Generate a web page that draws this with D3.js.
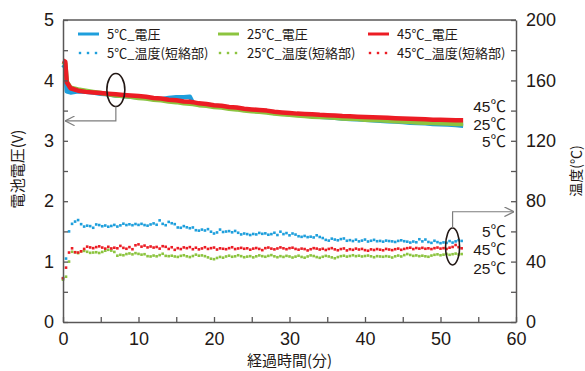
<!DOCTYPE html>
<html>
<head>
<meta charset="utf-8">
<script src="https://cdn.jsdelivr.net/npm/d3@7"></script>
<style>
  body { margin: 0; background: #fff; }
  svg text { font-family: "Liberation Sans", "Noto Sans CJK JP", sans-serif; fill: #231815; }
  .jp { font-family: "Noto Sans CJK JP", sans-serif; }
</style>
</head>
<body>
<div id="chart"></div>
<script>
// voltage samples (min)
const voltTime = [0, 0.3, 0.5, 1, 2, 3, 4, 5, 6, 7, 8, 9, 10, 11, 12, 13, 14, 15, 16, 16.8, 17.2,
  18, 19, 20, 21, 22, 23, 24, 25, 26, 27, 28, 29, 30, 31, 32, 33, 34, 35, 36, 37, 38, 39, 40,
  41, 42, 43, 44, 45, 46, 47, 48, 49, 50, 51, 52, 53];
const volt5 = [4.26, 4.22, 3.82, 3.80,
  3.82, 3.81, 3.80, 3.78, 3.77, 3.75, 3.74, 3.73, 3.72, 3.71, 3.70, 3.69, 3.71, 3.72, 3.72,
  3.73, 3.63,
  3.61, 3.60, 3.58, 3.57, 3.55, 3.53, 3.52, 3.50, 3.49, 3.48, 3.46, 3.45, 3.44, 3.43, 3.42, 3.41,
  3.40, 3.39, 3.38, 3.37, 3.36, 3.355, 3.35, 3.34, 3.33, 3.325, 3.32, 3.31, 3.30, 3.295, 3.29,
  3.28, 3.275, 3.27, 3.26, 3.25];
const volt25 = [4.31, 4.28, 3.98, 3.88,
  3.85, 3.83, 3.81, 3.79, 3.77, 3.75, 3.74, 3.73, 3.71, 3.70, 3.68, 3.67, 3.65, 3.64, 3.62,
  3.615, 3.61,
  3.59, 3.58, 3.56, 3.55, 3.53, 3.52, 3.50, 3.49, 3.48, 3.47, 3.45, 3.44, 3.43, 3.42, 3.41, 3.40,
  3.395, 3.39, 3.38, 3.37, 3.365, 3.36, 3.35, 3.345, 3.34, 3.33, 3.325, 3.32, 3.31, 3.305, 3.30,
  3.295, 3.29, 3.285, 3.28, 3.28];
const volt45 = [4.33, 4.31, 3.97, 3.87,
  3.83, 3.81, 3.80, 3.79, 3.78, 3.77, 3.76, 3.75, 3.74, 3.73, 3.71, 3.70, 3.68, 3.67, 3.65,
  3.645, 3.64,
  3.62, 3.61, 3.59, 3.58, 3.56, 3.55, 3.53, 3.52, 3.51, 3.50, 3.48, 3.47, 3.46, 3.45, 3.445, 3.44,
  3.43, 3.425, 3.42, 3.41, 3.405, 3.40, 3.395, 3.39, 3.385, 3.38, 3.375, 3.37, 3.365, 3.36, 3.355,
  3.35, 3.35, 3.345, 3.34, 3.34];

// short-circuit temperature, one reading every 0.4 min (deg C)
const tempStep = 0.4;
const temp5 = [
  29, 42, 60, 65, 66.5, 67.5, 64.8, 63.2, 63.8, 63.5,
  62.4, 64.6, 64.2, 63.4, 63.9, 63.1, 63.6, 64.3, 63.2, 64.0,
  65.1, 64.2, 64.7, 64.1, 64.9, 64.3, 65.0, 64.2, 63.8, 64.6,
  65.3, 64.4, 67.3, 65.0, 64.1, 66.3, 65.4, 64.8, 62.6, 62.4,
  63.5, 62.7, 62.1, 62.6, 60.8, 60.5, 61.2, 60.6, 61.5, 59.8,
  58.6, 59.3, 61.2, 59.6, 59.9, 60.2, 59.4, 60.3, 59.1, 58.0,
  58.6, 58.2, 57.6, 58.3, 58.0, 59.0, 58.4, 58.7, 57.8, 58.2,
  59.1, 57.6, 59.8, 58.2, 58.9, 57.4, 58.6, 57.9, 56.8, 56.4,
  57.0, 56.2, 56.5, 56.0, 57.4, 56.3, 55.6, 54.4, 53.9, 55.2,
  54.6, 54.1, 54.9, 55.3, 53.8, 54.2, 53.6, 54.5, 53.4, 53.9,
  54.6, 53.3, 53.8, 54.4, 53.5, 53.7, 53.2, 53.9, 53.6, 53.4,
  53.0, 53.7, 54.1, 53.5, 53.2, 52.6, 53.3, 52.8, 54.8, 53.4,
  54.6, 53.0, 52.4, 53.8, 52.9, 52.2, 52.7, 52.4, 53.6, 52.6,
  53.4, 54.2, 53.7];
const temp25 = [
  28, 30, 40, 46.5, 46.2, 45.6, 46.8, 47.1, 46.5, 45.8,
  46.0, 46.2, 45.7, 46.4, 47.2, 47.8, 47.3, 46.4, 43.9, 44.5,
  44.2, 45.0, 45.4, 44.8, 45.6, 45.1, 44.6, 44.9, 43.6, 43.4,
  44.0, 43.5, 44.3, 45.2, 43.8, 43.6, 43.9, 43.4, 43.1, 43.8,
  44.2, 43.5, 43.0, 43.7, 44.6, 43.9, 44.1, 43.6, 42.8, 41.9,
  41.6, 42.4, 43.1, 42.6, 43.4, 43.9, 43.2, 43.5, 44.2, 43.6,
  42.9, 43.3, 43.6, 42.8, 43.5, 44.1, 43.6, 43.2, 43.8, 44.3,
  43.5, 42.9, 43.6, 43.1, 43.8, 43.4, 42.7, 43.3, 43.9, 43.1,
  42.6, 43.4, 44.1, 43.7, 43.0, 42.5, 43.2, 43.8, 43.4, 42.8,
  42.2, 43.0, 43.6, 43.9, 43.3, 43.7, 44.2, 43.6, 43.9, 43.4,
  43.7, 44.0, 43.5, 42.9, 43.6, 43.4, 43.2, 43.6, 43.3, 42.7,
  43.5, 44.0, 43.4, 44.3, 45.0, 44.4, 43.8, 44.1, 43.6, 43.9,
  43.5, 43.2, 44.0, 44.5, 44.8, 44.2, 44.6, 45.1, 44.5, 44.9,
  45.3, 44.7, 45.0];
const temp45 = [
  29, 36, 46, 48.8, 46.2, 46.0, 46.8, 48.4, 49.9, 49.4,
  48.9, 49.6, 50.1, 49.3, 48.6, 49.8, 48.7, 49.2, 48.8, 50.4,
  49.1, 48.5, 49.6, 48.2, 50.8, 51.4, 49.9, 50.6, 49.4, 50.0,
  49.3, 49.7, 48.6, 50.2, 49.8, 48.4, 49.5, 47.8, 48.9, 48.3,
  49.4, 48.9, 49.6, 48.2, 49.2, 48.1, 48.7, 49.5, 48.4, 48.9,
  49.3, 48.0, 48.8, 48.5, 48.2, 48.9, 49.5, 48.3, 48.7, 49.1,
  48.5, 48.8, 47.9, 48.6, 49.0, 48.4, 47.6, 48.9, 49.3, 48.6,
  48.1, 48.7, 49.4, 48.8, 48.2, 48.9, 49.2, 48.4, 47.9, 48.6,
  48.3, 47.4, 48.2, 48.9, 48.6, 48.0, 48.5, 47.7, 48.4, 48.9,
  48.1, 47.5, 48.3, 48.7, 47.4, 48.2, 47.8, 48.6, 48.0, 48.4,
  47.6, 47.2, 48.1, 47.7, 48.3, 47.9, 47.5, 48.4, 48.0, 47.6,
  48.2, 48.6, 47.8, 48.4, 48.9, 49.2, 48.3, 49.0, 48.6, 49.1,
  48.5, 48.8, 48.3, 48.9, 49.3, 48.6, 48.9, 48.4, 49.2, 49.7,
  51.0, 49.6, 48.8];

const seriesNames = ['5℃', '25℃', '45℃'];
const colors = ['#1e9fdc', '#8cc43f', '#ec1c24'];

const W = 585, H = 371;
const margin = { top: 20, right: 69, bottom: 49, left: 63 };
const iw = W - margin.left - margin.right;
const ih = H - margin.top - margin.bottom;

const x = d3.scaleLinear().domain([0, 60]).range([0, iw]);
const yV = d3.scaleLinear().domain([0, 5]).range([ih, 0]);
const yT = d3.scaleLinear().domain([0, 200]).range([ih, 0]);

const svg = d3.select('#chart').append('svg')
  .attr('width', W).attr('height', H);
const g = svg.append('g')
  .attr('transform', 'translate(' + margin.left + ',' + margin.top + ')');

const axisColor = '#595757';

// voltage lines
const volts = [volt5, volt25, volt45];
const line = d3.line()
  .x(function (d, i) { return x(voltTime[i]); })
  .y(function (d) { return yV(d); });
volts.forEach(function (v, k) {
  g.append('path')
    .attr('d', line(v))
    .attr('fill', 'none')
    .attr('stroke', colors[k])
    .attr('stroke-width', 4.5)
    .attr('stroke-linejoin', 'round');
});

// temperature dots
const temps = [temp5, temp25, temp45];
temps.forEach(function (t, k) {
  g.append('g').selectAll('rect')
    .data(t)
    .enter().append('rect')
    .attr('x', function (d, i) { return x(i * tempStep) - 1.3; })
    .attr('y', function (d) { return yT(d) - 1.3; })
    .attr('width', 2.6)
    .attr('height', 2.6)
    .attr('fill', colors[k]);
});

// axes
const tickLen = 5;
const minorV = d3.range(0.5, 5, 1);
const minorX = d3.range(5, 60, 10);
const minorT = d3.range(20, 200, 40);

g.append('g')
  .call(d3.axisLeft(yV).tickValues([0, 1, 2, 3, 4, 5]).tickFormat(d3.format('d')).tickSizeInner(-tickLen).tickSizeOuter(0).tickPadding(9));
g.append('g')
  .call(d3.axisLeft(yV).tickValues(minorV).tickFormat('').tickSizeInner(-tickLen).tickSizeOuter(0))
  .select('.domain').remove();

g.append('g')
  .attr('transform', 'translate(0,' + ih + ')')
  .call(d3.axisBottom(x).tickValues([0, 10, 20, 30, 40, 50, 60]).tickSizeInner(-tickLen).tickSizeOuter(0).tickPadding(10));
g.append('g')
  .attr('transform', 'translate(0,' + ih + ')')
  .call(d3.axisBottom(x).tickValues(minorX).tickFormat('').tickSizeInner(-tickLen).tickSizeOuter(0))
  .select('.domain').remove();

g.append('g')
  .attr('transform', 'translate(' + iw + ',0)')
  .call(d3.axisRight(yT).tickValues([0, 40, 80, 120, 160, 200]).tickSizeInner(-tickLen).tickSizeOuter(0).tickPadding(10));
g.append('g')
  .attr('transform', 'translate(' + iw + ',0)')
  .call(d3.axisRight(yT).tickValues(minorT).tickFormat('').tickSizeInner(-tickLen).tickSizeOuter(0))
  .select('.domain').remove();

g.append('line')
  .attr('x1', 0).attr('x2', iw).attr('y1', 0).attr('y2', 0)
  .attr('stroke', axisColor).attr('stroke-width', 1.5);

g.selectAll('.domain').attr('stroke', axisColor).attr('stroke-width', 1.5);
g.selectAll('.tick line').attr('stroke', axisColor).attr('stroke-width', 1.3);
g.selectAll('.tick text').attr('font-size', 18).attr('fill', '#231815')
  .style('font-family', '"Liberation Sans", sans-serif');

// axis titles
svg.append('text').attr('class', 'jp')
  .attr('x', margin.left + iw / 2).attr('y', 366)
  .attr('text-anchor', 'middle').attr('font-size', 15)
  .text('経過時間(分)');
svg.append('text').attr('class', 'jp')
  .attr('transform', 'translate(23,' + (margin.top + ih / 2 - 2) + ') rotate(-90)')
  .attr('text-anchor', 'middle').attr('font-size', 15)
  .text('電池電圧(V)');
svg.append('text').attr('class', 'jp')
  .attr('transform', 'translate(581,171) rotate(-90)')
  .attr('text-anchor', 'middle').attr('font-size', 14)
  .text('温度(℃)');

// legend
const legendX = [15, 155, 305];
seriesNames.forEach(function (name, k) {
  const lg = g.append('g').attr('transform', 'translate(' + legendX[k] + ',0)');
  lg.append('line')
    .attr('x1', 0).attr('x2', 21).attr('y1', 14).attr('y2', 14)
    .attr('stroke', colors[k]).attr('stroke-width', 3);
  lg.append('text').attr('class', 'jp')
    .attr('x', 29).attr('y', 19).attr('font-size', 13)
    .text(name + '_電圧');
  [2, 10, 18].forEach(function (dx) {
    lg.append('rect')
      .attr('x', dx - 1.2).attr('y', 31.8).attr('width', 2.4).attr('height', 2.4)
      .attr('fill', colors[k]);
  });
  lg.append('text').attr('class', 'jp')
    .attr('x', 29).attr('y', 38).attr('font-size', 13)
    .text(name + '_温度(短絡部)');
});

// annotations: group end labels
const voltLabels = [
  { text: '45℃', y: 112 },
  { text: '25℃', y: 130 },
  { text: '5℃', y: 147 }
];
const tempLabels = [
  { text: '5℃', y: 237 },
  { text: '45℃', y: 255 },
  { text: '25℃', y: 274 }
];
voltLabels.concat(tempLabels).forEach(function (l) {
  svg.append('text')
    .attr('x', 506).attr('y', l.y)
    .attr('text-anchor', 'end').attr('font-size', 15.5)
    .text(l.text);
});

// ellipses marking the curve groups, with arrows to their axis
svg.append('defs').append('marker')
  .attr('id', 'arrow').attr('viewBox', '0 0 8 8')
  .attr('refX', 8).attr('refY', 4)
  .attr('markerWidth', 8).attr('markerHeight', 8)
  .attr('orient', 'auto')
  .append('path').attr('d', 'M0,0 L8,4 L0,8')
  .attr('fill', 'none').attr('stroke', '#7d7d7d').attr('stroke-width', 1);

const e1 = { t: 7, v: 3.84, rx: 9, ry: 16.5 };
const e2 = { t: 51.6, c: 50, rx: 7, ry: 18.5 };

g.append('ellipse')
  .attr('cx', x(e1.t)).attr('cy', yV(e1.v))
  .attr('rx', e1.rx).attr('ry', e1.ry)
  .attr('fill', 'none').attr('stroke', '#231815').attr('stroke-width', 1.6);
g.append('path')
  .attr('d', 'M' + x(e1.t) + ',' + (yV(e1.v) + e1.ry) + ' V' + yV(3.33) + ' H2')
  .attr('fill', 'none').attr('stroke', '#7d7d7d').attr('stroke-width', 1.2)
  .attr('marker-end', 'url(#arrow)');

g.append('ellipse')
  .attr('cx', x(e2.t)).attr('cy', yT(e2.c))
  .attr('rx', e2.rx).attr('ry', e2.ry)
  .attr('fill', 'none').attr('stroke', '#231815').attr('stroke-width', 1.6);
g.append('path')
  .attr('d', 'M' + x(e2.t) + ',' + (yT(e2.c) - e2.ry) + ' V' + yT(73) + ' H' + (iw - 2))
  .attr('fill', 'none').attr('stroke', '#7d7d7d').attr('stroke-width', 1.2)
  .attr('marker-end', 'url(#arrow)');
</script>
</body>
</html>
